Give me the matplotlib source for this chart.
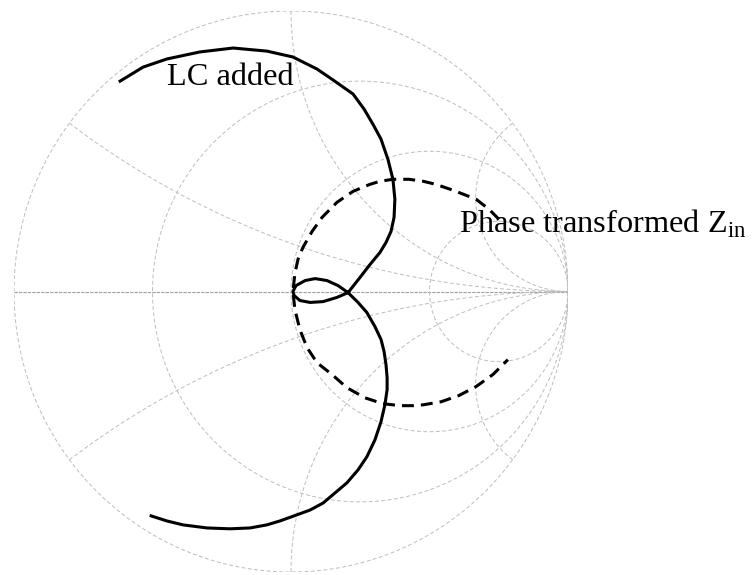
import numpy as np
import matplotlib
matplotlib.use('Agg')
from matplotlib import pyplot as plt

plt.rcParams['font.family'] = ['Liberation Serif', 'DejaVu Serif']
plt.rcParams['mathtext.fontset'] = 'custom'
plt.rcParams['mathtext.rm'] = 'Liberation Serif'

# reflection coefficient of the LC-added trajectory (real, imag)
lc_re = [-0.617, -0.534, -0.448, -0.329, -0.209, -0.087, 0.007, 0.094, 0.152, 0.224,
         0.264, 0.296, 0.325, 0.350, 0.368, 0.375, 0.372, 0.361, 0.343, 0.321,
         0.285, 0.249, 0.206, 0.166, 0.116, 0.069, 0.032, 0.011, 0.007, 0.018,
         0.051, 0.087, 0.130, 0.170, 0.206, 0.242, 0.274, 0.303, 0.325, 0.336,
         0.343, 0.347, 0.347, 0.339, 0.325, 0.303, 0.274, 0.242, 0.202, 0.159,
         0.116, 0.069, 0.022, -0.040, -0.087, -0.148, -0.220, -0.303, -0.390, -0.448,
         -0.505]
lc_im = [0.750, 0.800, 0.829, 0.854, 0.868, 0.857, 0.836, 0.793, 0.754, 0.704,
         0.650, 0.596, 0.543, 0.471, 0.400, 0.329, 0.264, 0.214, 0.175, 0.139,
         0.096, 0.050, -0.004, -0.021, -0.036, -0.039, -0.032, -0.014, 0.000, 0.021,
         0.039, 0.046, 0.039, 0.021, -0.004, -0.039, -0.075, -0.125, -0.171, -0.214,
         -0.261, -0.307, -0.350, -0.404, -0.464, -0.529, -0.589, -0.636, -0.682, -0.718,
         -0.754, -0.779, -0.796, -0.818, -0.832, -0.843, -0.846, -0.843, -0.832, -0.818,
         -0.800]

# phase transformed input impedance
zin_re = [0.751, 0.715, 0.668, 0.632, 0.585, 0.523, 0.477, 0.426, 0.368, 0.321,
          0.285, 0.224, 0.166, 0.112, 0.076, 0.043, 0.025, 0.014, 0.007, 0.014,
          0.032, 0.058, 0.094, 0.148, 0.202, 0.267, 0.332, 0.394, 0.440, 0.477,
          0.542, 0.606, 0.668, 0.729, 0.783]
zin_im = [0.257, 0.293, 0.329, 0.343, 0.361, 0.382, 0.393, 0.400, 0.400, 0.393,
          0.382, 0.357, 0.318, 0.264, 0.214, 0.157, 0.114, 0.064, 0.000, -0.064,
          -0.136, -0.200, -0.254, -0.296, -0.343, -0.379, -0.400, -0.407, -0.407, -0.404,
          -0.393, -0.371, -0.339, -0.296, -0.243]

# smith chart grid values
r_vals = [1 / 3, 1, 3]
x_vals = [1 / 3, 1, 3]

fig = plt.figure(figsize=(7.52, 5.75), dpi=100)
ax = fig.add_axes([14 / 752, 3 / 575, 554 / 752, 561 / 575])
ax.set_xlim(-1, 1)
ax.set_ylim(-1, 1)
ax.axis('off')

grid_kw = dict(color='#bdbdbd', lw=0.7, ls=(0, (4, 2.5)), zorder=1)


def gamma(z):
    return (z - 1) / (z + 1)


# outer circle and real axis
t = np.linspace(0, 2 * np.pi, 600)
ax.plot(np.cos(t), np.sin(t), **grid_kw)
ax.plot([-1, 1], [0, 0], color='#a0a0a0', lw=0.8, ls=(0, (3, 1)), zorder=1)

# constant resistance circles
xs = np.tan(np.linspace(-np.pi / 2 + 1e-4, np.pi / 2 - 1e-4, 800))
for r in r_vals:
    g = gamma(r + 1j * xs)
    ax.plot(g.real, g.imag, **grid_kw)

# constant reactance arcs
rs = np.concatenate([[0], np.logspace(-3, 4, 800)])
for x in x_vals:
    for s in (1, -1):
        g = gamma(rs + 1j * s * x)
        ax.plot(g.real, g.imag, **grid_kw)

ax.plot(lc_re, lc_im, color='black', lw=2.2, solid_joinstyle='round', zorder=3)
ax.plot(zin_re, zin_im, color='black', lw=2.2, ls=(0, (3.9, 2.3)), zorder=3)

fig.text(167 / 752, 1 - 85 / 575, 'LC added', fontsize=23.3, va='baseline', ha='left')
fig.text(459 / 752, 1 - 233 / 575, r'Phase transformed Z$_{\mathrm{in}}$', fontsize=23.3,
         va='baseline', ha='left')

plt.savefig('out.png', dpi=100)
